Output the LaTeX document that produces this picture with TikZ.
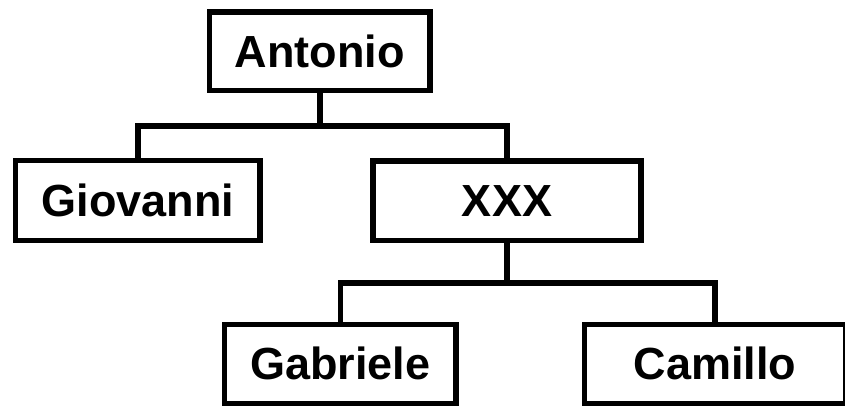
\documentclass[tikz,border=0pt]{standalone}
\usepackage{fontspec}
\setmainfont{Liberation Sans}
\begin{document}
\begin{tikzpicture}[x=1pt,y=-1pt,
  person/.style={draw=black, line width=5.5pt, rectangle, inner sep=0pt, outer sep=0pt,
    font=\fontsize{45}{54}\selectfont\bfseries},
  link/.style={draw=black, line width=5.5pt, line join=miter}]
\useasboundingbox (0,0) rectangle (845,405);
\node[person, minimum width=220.5pt, minimum height=78.5pt] (antonio) at (319.75,51.25) {Antonio};
\node[person, minimum width=244.5pt, minimum height=80pt] (giovanni) at (137.75,200.5) {Giovanni};
\node[person, minimum width=268pt, minimum height=79.5pt] (xxx) at (507,200.75) {XXX};
\node[person, minimum width=231.5pt, minimum height=79pt] (gabriele) at (340.25,363.75) {Gabriele};
\node[person, minimum width=261pt, minimum height=79pt] (camillo) at (715,363.75) {Camillo};
\coordinate (busa) at (0,126);
\coordinate (busb) at (0,283);
\draw[link] (antonio.south) -- (antonio.south |- busa);
\draw[link] (giovanni.north) |- (xxx.north |- busa) -- (xxx.north);
\draw[link] (xxx.south) -- (xxx.south |- busb);
\draw[link] (gabriele.north) |- (camillo.north |- busb) -- (camillo.north);
\end{tikzpicture}
\end{document}
